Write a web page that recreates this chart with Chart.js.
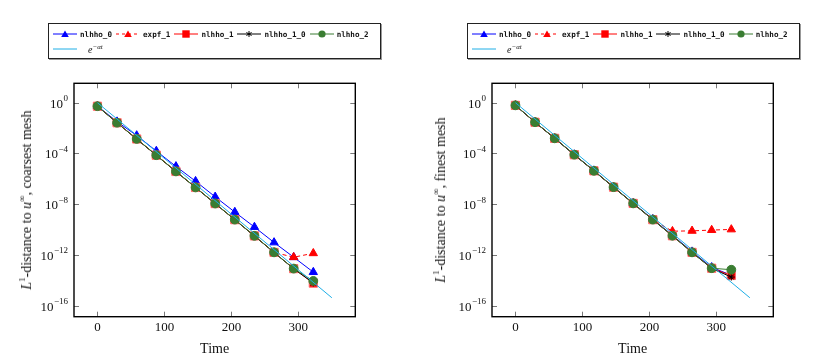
<!DOCTYPE html>
<html>
<head>
<meta charset="utf-8">
<script src="https://cdn.jsdelivr.net/npm/chart.js@4.4.1/dist/chart.umd.min.js"></script>
<style>
  html, body { margin: 0; padding: 0; background: #fff; }
  body { width: 814px; height: 361px; position: relative; overflow: hidden; font-family: 'Liberation Serif', serif; }
  .box { position: absolute; top: 0; width: 407px; height: 361px; }
  .legend { position: absolute; top: 23px; width: 331px; height: 34px; border: 1px solid #222; box-shadow: 1px 1px 0 #999;
            font-family: 'DejaVu Sans Mono', monospace; font-weight: bold; font-size: 7.6px; color: #111; }
  .row { position: absolute; left: 4px; display: flex; align-items: center; height: 12px; white-space: nowrap; }
  .row1 { top: 4px; }
  .row2 { top: 19px; }
  .item { display: flex; align-items: center; margin-right: 4px; }
  .item svg { margin-right: 3px; }
  .math { font-family: 'Liberation Serif', serif; font-weight: normal; font-style: italic; font-size: 10px; margin-left: 8px; }
  .math sup { font-size: 7px; line-height: 0; }
  .ytitle { position: absolute; top: 200px; white-space: nowrap; font-size: 14px; color: #111;
            transform: translate(-50%, -50%) rotate(-90deg); }
  .ytitle sup { font-size: 9px; line-height: 0; }
</style>
</head>
<body>
<div class="box" style="left:0"><canvas id="coarse"></canvas></div>
<div class="box" style="left:407px"><canvas id="fine"></canvas></div>
<div class="legend" id="legendL" style="left:48px"></div>
<div class="legend" id="legendR" style="left:467px"></div>
<div class="ytitle" style="left:27px"><i>L</i><sup>1</sup>-distance to <i>u</i><sup>&infin;</sup>, coarsest mesh</div>
<div class="ytitle" style="left:441px"><i>L</i><sup>1</sup>-distance to <i>u</i><sup>&infin;</sup>, finest mesh</div>
<script>
// time instants of the markers
const times = [0, 29.3, 58.6, 87.9, 117.2, 146.5, 175.8, 205.1, 234.4, 263.7, 293, 322.3];
// reference slope e^{-alpha t}
const refTimes = [0, 350];
const refValues = [1, 4.2e-16];

const xTicks = [0, 100, 200, 300];
const yTicks = [1, 1e-4, 1e-8, 1e-12, 1e-16];
const yTickExp = ['0', '\u22124', '\u22128', '\u221212', '\u221216'];

// coarsest mesh
const coarseNlhho0 = [0.54, 3.2e-2, 2.6e-3, 1.55e-4, 9.5e-6, 6.5e-7, 3.8e-8, 2.4e-9, 1.58e-10, 9.6e-12, 6.6e-13, 4.4e-14];
const coarseExpf1 = [0.52, 2.6e-2, 1.37e-3, 7.2e-5, 3.8e-6, 2.08e-7, 1.12e-8, 6.0e-10, 3.15e-11, 1.58e-12, 6.6e-13, 1.35e-12];
const coarseNlhho1 = [0.525, 2.63e-2, 1.38e-3, 7.24e-5, 3.8e-6, 2.09e-7, 1.12e-8, 6.03e-10, 3.16e-11, 1.58e-12, 8.3e-14, 6.0e-15];
const coarseNlhho10 = [0.52, 2.6e-2, 1.36e-3, 7.1e-5, 3.7e-6, 2.05e-7, 1.1e-8, 5.9e-10, 3.1e-11, 1.55e-12, 8.1e-14, 6.2e-15];
const coarseNlhho2 = [0.53, 2.65e-2, 1.4e-3, 7.3e-5, 3.85e-6, 2.1e-7, 1.13e-8, 6.1e-10, 3.2e-11, 1.6e-12, 8.4e-14, 8.9e-15];

// finest mesh
const fineNlhho0 = [0.62, 2.9e-2, 1.57e-3, 8.1e-5, 4.4e-6, 2.25e-7, 1.2e-8, 6.5e-10, 3.6e-11, 1.8e-12, 1.05e-13, 2.5e-14];
const fineExpf1 = [0.61, 2.87e-2, 1.54e-3, 7.9e-5, 4.25e-6, 2.18e-7, 1.14e-8, 6.0e-10, 7.4e-11, 7.9e-11, 9.1e-11, 1.02e-10];
const fineNlhho1 = [0.617, 2.88e-2, 1.55e-3, 7.94e-5, 4.27e-6, 2.19e-7, 1.15e-8, 6.03e-10, 3.24e-11, 1.58e-12, 8.9e-14, 2.4e-14];
const fineNlhho10 = [0.61, 2.85e-2, 1.53e-3, 7.8e-5, 4.2e-6, 2.15e-7, 1.13e-8, 5.9e-10, 3.2e-11, 1.55e-12, 8.7e-14, 1.8e-14];
const fineNlhho2 = [0.62, 2.9e-2, 1.56e-3, 8.0e-5, 4.3e-6, 2.2e-7, 1.16e-8, 6.1e-10, 3.26e-11, 1.6e-12, 9.0e-14, 6.8e-14];

const BLUE = '#0000ff', RED = '#ff0000', BLACK = '#000000', GREEN = '#3a7d32', CYAN = '#1eaee6';

function pts(xs, ys) {
  return xs.map((t, i) => ({ x: t, y: ys[i] }));
}

function datasets(d0, e1, d1, d10, d2) {
  // pgfplots draws later plots on top; in Chart.js a lower order sits on top
  return [
    { label: 'nlhho_0', data: pts(times, d0), borderColor: BLUE, backgroundColor: BLUE,
      pointStyle: 'triangle', pointRadius: 4.8, borderWidth: 1, order: 5 },
    { label: 'expf_1', data: pts(times, e1), borderColor: RED, backgroundColor: RED, borderDash: [4, 3],
      pointStyle: 'triangle', pointRadius: 4.8, borderWidth: 1, order: 4 },
    { label: 'nlhho_1', data: pts(times, d1), borderColor: RED, backgroundColor: RED, pointBorderColor: '#ff6b6b',
      pointStyle: 'rect', pointRadius: 5.8, borderWidth: 1, order: 3 },
    { label: 'nlhho_1_0', data: pts(times, d10), borderColor: BLACK, backgroundColor: BLACK,
      pointStyle: 'star', pointRadius: 3.5, borderWidth: 1, order: 2 },
    { label: 'nlhho_2', data: pts(times, d2), borderColor: GREEN, backgroundColor: GREEN,
      pointStyle: 'circle', pointRadius: 4.4, borderWidth: 1, order: 1 },
    { label: 'e^-at', data: pts(refTimes, refValues), borderColor: CYAN, pointRadius: 0, borderWidth: 1, order: 0 }
  ];
}

const axisPlugin = {
  id: 'axisBox',
  afterDraw(chart) {
    const { ctx, chartArea: a, scales: { x, y } } = chart;
    ctx.save();
    ctx.strokeStyle = '#777';
    ctx.lineWidth = 1;
    ctx.beginPath();
    xTicks.forEach(v => {
      const px = Math.round(x.getPixelForValue(v)) + 0.5;
      ctx.moveTo(px, a.bottom); ctx.lineTo(px, a.bottom - 5);
      ctx.moveTo(px, a.top); ctx.lineTo(px, a.top + 5);
    });
    yTicks.forEach(v => {
      const py = Math.round(y.getPixelForValue(v)) + 0.5;
      ctx.moveTo(a.left, py); ctx.lineTo(a.left + 5, py);
      ctx.moveTo(a.right, py); ctx.lineTo(a.right - 5, py);
    });
    ctx.stroke();

    ctx.strokeStyle = '#000';
    ctx.lineWidth = 1.4;
    ctx.strokeRect(a.left, a.top, a.right - a.left, a.bottom - a.top);

    ctx.fillStyle = '#111';
    ctx.textBaseline = 'middle';
    ctx.textAlign = 'center';
    ctx.font = '13px "Liberation Serif"';
    xTicks.forEach(v => ctx.fillText(String(v), x.getPixelForValue(v), 327.5));
    ctx.font = '14px "Liberation Serif"';
    ctx.fillText('Time', (a.left + a.right) / 2, 349);

    ctx.textAlign = 'left';
    yTicks.forEach((v, i) => {
      const py = y.getPixelForValue(v);
      ctx.font = '9px "Liberation Serif"';
      const ew = ctx.measureText(yTickExp[i]).width;
      ctx.font = '13px "Liberation Serif"';
      const bw = ctx.measureText('10').width;
      const right = a.left - 6;
      ctx.fillText('10', right - ew - bw - 0.5, py + 1.5);
      ctx.font = '9px "Liberation Serif"';
      ctx.fillText(yTickExp[i], right - ew, py - 4);
    });
    ctx.restore();
  }
};

function makeChart(id, sets, padLeft) {
  return new Chart(document.getElementById(id), {
    type: 'line',
    data: { datasets: sets },
    options: {
      responsive: true,
      maintainAspectRatio: false,
      animation: false,
      layout: { padding: { left: padLeft, right: 407 - padLeft - 281.3, top: 83.3, bottom: 44.3 } },
      scales: {
        x: { type: 'linear', min: -35, max: 385, display: false },
        y: { type: 'logarithmic', min: Math.pow(10, -16.87), max: Math.pow(10, 1.53), display: false }
      },
      plugins: { legend: { display: false }, tooltip: { enabled: false } }
    },
    plugins: [axisPlugin]
  });
}

makeChart('coarse', datasets(coarseNlhho0, coarseExpf1, coarseNlhho1, coarseNlhho10, coarseNlhho2), 74);
makeChart('fine', datasets(fineNlhho0, fineExpf1, fineNlhho1, fineNlhho10, fineNlhho2), 85);

// legend in the pgfplots style
const legendItems = [
  { name: 'nlhho_0', color: BLUE, dash: '', mark: 'tri' },
  { name: 'expf_1', color: RED, dash: '3,3', mark: 'tri' },
  { name: 'nlhho_1', color: RED, dash: '', mark: 'sq' },
  { name: 'nlhho_1_0', color: BLACK, dash: '', mark: 'star' },
  { name: 'nlhho_2', color: GREEN, dash: '', mark: 'circ' }
];

function sample(color, dash, mark) {
  let m = '';
  if (mark === 'tri') m = `<polygon points="12,1.5 15.8,8 8.2,8" fill="${color}"/>`;
  if (mark === 'sq') m = `<rect x="8.3" y="1.3" width="7.4" height="7.4" fill="${color}"/>`;
  if (mark === 'circ') m = `<circle cx="12" cy="5" r="3.6" fill="${color}"/>`;
  if (mark === 'star') m = `<path d="M12 2V8M9.4 3.5L14.6 6.5M9.4 6.5L14.6 3.5" stroke="${color}" stroke-width="1"/>`;
  return `<svg width="24" height="10"><line x1="0" y1="5" x2="24" y2="5" stroke="${color}" stroke-width="1"` +
    (dash ? ` stroke-dasharray="${dash}"` : '') + `/>${m}</svg>`;
}

['legendL', 'legendR'].forEach(id => {
  const el = document.getElementById(id);
  let html = '<div class="row row1">';
  legendItems.forEach(it => {
    html += `<div class="item">${sample(it.color, it.dash, it.mark)}<span>${it.name}</span></div>`;
  });
  html += '</div><div class="row row2"><div class="item">' + sample(CYAN, '', '') +
    '<span class="math">e<sup>\u2212\u03b1t</sup></span></div></div>';
  el.innerHTML = html;
});
</script>
</body>
</html>
